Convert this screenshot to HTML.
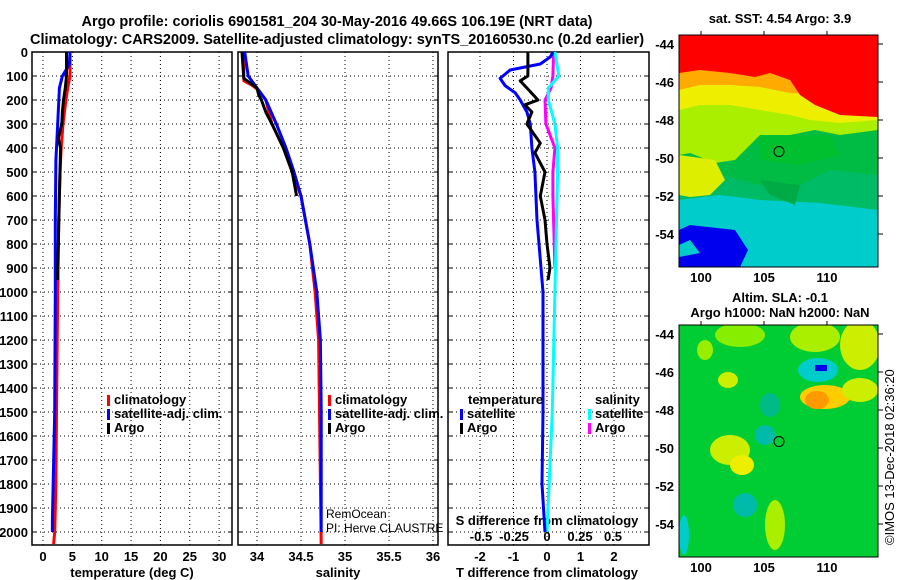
<!DOCTYPE html>
<html><head><meta charset="utf-8"><style>
body{margin:0;background:#fff;}
svg{display:block;font-family:"Liberation Sans",sans-serif;}
.b{font-weight:bold;font-size:13px;}
.t{font-weight:bold;font-size:14.5px;}
</style></head><body>
<svg id="c" width="900" height="580" viewBox="0 0 900 580">
<text class="t" x="337" y="26" text-anchor="middle">Argo profile: coriolis 6901581_204 30-May-2016 49.66S 106.19E (NRT data)</text>
<text class="t" x="337" y="44" text-anchor="middle">Climatology: CARS2009. Satellite-adjusted climatology: synTS_20160530.nc (0.2d earlier)</text>
<g id="g"></g>
<g id="maps"></g>
</svg>
<script>
// ---- data ----
const depthTicks=[0,100,200,300,400,500,600,700,800,900,1000,1100,1200,1300,1400,1500,1600,1700,1800,1900,2000];
const tTicks=[0,5,10,15,20,25,30];
const sTicks=[34,34.5,35,35.5,36];
const sTickLabels=["34","34.5","35","35.5","36"];
const dtTicks=[-2,-1,0,1,2];
const dsTicks=[-0.5,-0.25,0,0.25,0.5];
const dsTickLabels=["-0.5","-0.25","0","0.25","0.5"];

const tClimDepth=[0,100,150,200,300,400,500,700,1000,1500,1800,2000,2050];
const tClimVal=[4.6,4.6,4.2,3.9,3.4,3.1,2.9,2.7,2.5,2.3,2.2,2.0,1.8];
const tSatDepth=[0,50,80,100,150,300,450,700,1000,1500,1950,2000];
const tSatVal=[4.6,4.5,3.8,3.3,2.8,2.5,2.2,2.1,2.1,2.0,1.6,1.6];
const tArgoDepth=[0,100,150,200,250,300,360,400,500,600,700,800,900,950];
const tArgoVal=[4.0,4.0,3.8,3.5,3.3,3.2,2.6,3.0,2.9,2.8,2.7,2.6,2.5,2.5];

const sClimDepth=[0,120,140,160,200,300,400,500,600,800,1000,1200,1500,2050];
const sClimVal=[33.85,33.85,33.95,34.02,34.1,34.17,34.3,34.4,34.5,34.6,34.66,34.7,34.71,34.73];
const sSatDepth=[0,100,150,200,300,400,500,600,800,1000,1200,1500,2000];
const sSatVal=[33.86,33.9,34.0,34.1,34.22,34.33,34.42,34.5,34.6,34.68,34.72,34.73,34.73];
const sArgoDepth=[0,110,150,180,200,250,300,400,500,600];
const sArgoVal=[33.83,33.85,34.0,34.02,34.05,34.1,34.17,34.3,34.4,34.45];

const dtSatDepth=[0,20,50,75,110,140,170,200,250,300,400,500,700,1000,1500,1800,2000];
const dtSatVal=[0.18,0.1,-0.2,-1.1,-1.4,-1.25,-0.95,-0.8,-0.6,-0.5,-0.45,-0.36,-0.3,-0.12,-0.12,-0.15,-0.06];
const dtArgoDepth=[0,100,120,150,200,220,250,300,380,420,500,600,700,800,900,950];
const dtArgoVal=[-0.57,-0.57,-0.8,-0.6,-0.27,-0.66,-0.45,-0.6,-0.2,-0.36,-0.06,-0.2,-0.06,0,0.09,0.03];
const dsSatDepth=[0,100,150,200,300,400,500,1000,1500,2000];
const dsSatVal=[0.06,0.09,0.01,0.01,0.06,0.08,0.08,0.06,0.04,0.0];
const dsArgoDepth=[0,100,150,200,300,400,500,600,700,900];
const dsArgoVal=[0.05,0.045,0.03,-0.015,-0.008,0.06,0.045,0.045,0.05,0.06];

// ---- axes ----
const Y=d=>52+d*0.24;
const XT=v=>43+v*5.87;
const XS=v=>257+(v-34)*88;
const XDT=v=>547+v*33.5;
const XDS=v=>547+v*132;
const NS="http://www.w3.org/2000/svg";
const g=document.getElementById('g');
function el(tag,attrs,parent){const e=document.createElementNS(NS,tag);for(const k in attrs)e.setAttribute(k,attrs[k]);(parent||g).appendChild(e);return e;}
function txt(x,y,s,anchor,cls){const e=el('text',{x:x,y:y,'text-anchor':anchor||'middle','class':cls||'b'});e.textContent=s;return e;}

const panels=[{x0:32,x1:232,name:'temperature'},{x0:238,x1:438,name:'salinity'},{x0:448,x1:649,name:'difference'}];
const yb=545;
panels.forEach((p,i)=>{
  const gx=i==0?tTicks.map(XT):i==1?sTicks.map(XS):dtTicks.map(XDT);
  gx.forEach(x=>{const l=el('line',{x1:x,x2:x,y1:52,y2:yb,stroke:'#000','stroke-width':1,'stroke-dasharray':'1,3'});
    
    });
  depthTicks.forEach(d=>{const l=el('line',{x1:p.x0,x2:p.x1,y1:Y(d),y2:Y(d),stroke:'#000','stroke-width':1,'stroke-dasharray':'1,3'});
    
    
    el('line',{x1:p.x1-4,x2:p.x1,y1:Y(d),y2:Y(d),stroke:'#000'});
    el('line',{x1:p.x0,x2:p.x0+4,y1:Y(d),y2:Y(d),stroke:'#000'});});
  const r=el('rect',{x:p.x0,y:52,width:p.x1-p.x0,height:yb-52,fill:'none',stroke:'#000','stroke-width':1.5});
  
  
});
depthTicks.forEach(d=>{const t=txt(28,Y(d)+5,String(d),'end');
  
  });
tTicks.forEach(v=>{const t=txt(XT(v),561,String(v));
  
  });
sTicks.forEach((v,i)=>{const t=txt(XS(v),561,sTickLabels[i]);
  
  });
dtTicks.forEach(v=>{const t=txt(XDT(v),561,String(v));
  
  });
dsTicks.forEach((v,i)=>{const t=txt(XDS(v),541,dsTickLabels[i]);
  
  });
let t;
t=txt(132,577,'temperature (deg C)');
t=txt(338,577,'salinity');
t=txt(547,577,'T difference from climatology');
t=txt(547,525,'S difference from climatology');

function line(ds,vs,X,color,name){
  const pts=ds.map((d,i)=>X(vs[i]).toFixed(1)+','+Y(d).toFixed(1)).join(' ');
  const l=el('polyline',{points:pts,fill:'none',stroke:color,'stroke-width':3,'stroke-linejoin':'round'});
  
  
}
line(tClimDepth,tClimVal,XT,'#f00','temperature-climatology-line');
line(tSatDepth,tSatVal,XT,'#00f','temperature-satellite-line');
line(tArgoDepth,tArgoVal,XT,'#000','temperature-argo-line');
line(sClimDepth,sClimVal,XS,'#f00','salinity-climatology-line');
line(sSatDepth,sSatVal,XS,'#00f','salinity-satellite-line');
line(sArgoDepth,sArgoVal,XS,'#000','salinity-argo-line');
line(dsArgoDepth,dsArgoVal,XDS,'#f0f','s-diff-argo-line');
line(dsSatDepth,dsSatVal,XDS,'#0ff','s-diff-satellite-line');
line(dtSatDepth,dtSatVal,XDT,'#00f','t-diff-satellite-line');
line(dtArgoDepth,dtArgoVal,XDT,'#000','t-diff-argo-line');

function legend(x,y,items,name){
  items.forEach((it,i)=>{
    el('rect',{x:x,y:y+i*14-9,width:3,height:11,fill:it[1]});
    const tt=txt(x+7,y+i*14,it[0],'start');
    
    
  });
}
legend(107,404,[['climatology','#f00'],['satellite-adj. clim.','#00f'],['Argo','#000']],'temperature-legend');
legend(328,404,[['climatology','#f00'],['satellite-adj. clim.','#00f'],['Argo','#000']],'salinity-legend');
t=txt(468,404,'temperature','start');
legend(460,418,[['satellite','#00f'],['Argo','#000']],'t-diff-legend');
t=txt(595,404,'salinity','start');
legend(588,418,[['satellite','#0ff'],['Argo','#f0f']],'s-diff-legend');
t=el('text',{x:326,y:518,'font-size':12});t.textContent='RemOcean';
t=el('text',{x:326,y:532,'font-size':12});t.textContent='PI: Herve CLAUSTRE';

// ---- maps ----
const latTicks=[-44,-46,-48,-50,-52,-54];
const lonTicks=[100,105,110];
const mg=document.getElementById('maps');
function map(y0,title1,title2,name,layers){
  const X=lon=>701+(lon-100)*12.6, YY=lat=>y0+9+(-44-lat)*19;
  const gg=el('g',{},mg);
  
  
  const cp=el('clipPath',{id:'cp'+y0},gg);el('rect',{x:679,y:y0,width:199,height:232},cp);
  const inner=el('g',{'clip-path':'url(#cp'+y0+')'},gg);
  layers.forEach(L=>{
    if(L[0]=='r') el('rect',{x:L[1],y:y0+L[2],width:L[3],height:L[4],fill:L[5]},inner);
    else if(L[0]=='e') el('ellipse',{cx:L[1],cy:y0+L[2],rx:L[3],ry:L[4],fill:L[5]},inner);
    else el('polygon',{points:L[1].map((v,i)=>i%2?v+y0:v).join(' '),fill:L[2]},inner);
  });
  el('rect',{x:679,y:y0,width:199,height:232,fill:'none',stroke:'#000'},gg);
  el('circle',{cx:X(106.19),cy:YY(-49.66),r:5,fill:'none',stroke:'#000'},gg);
  latTicks.forEach(l=>{const tt=el('text',{x:674,y:YY(l)+5,'text-anchor':'end','class':'b'},gg);tt.textContent=String(l);
    el('line',{x1:878,x2:883,y1:YY(l),y2:YY(l),stroke:'#000'},gg);});
  lonTicks.forEach(l=>{const tt=el('text',{x:X(l),y:y0+247,'text-anchor':'middle','class':'b'},gg);tt.textContent=String(l);
    el('line',{x1:X(l),x2:X(l),y1:y0-4,y2:y0,stroke:'#000'},gg);});
  let tt=el('text',{x:780,y:title2?y0-23:y0-12,'text-anchor':'middle','class':'b'},gg);tt.textContent=title1;
  if(title2){tt=el('text',{x:780,y:y0-8,'text-anchor':'middle','class':'b'},gg);tt.textContent=title2;}
}
map(35,'sat. SST: 4.54 Argo: 3.9',null,'sst-map',[
 ['r',679,0,199,232,'#00cccc'],
 ['p',[679,0,878,0,878,175,820,168,760,165,720,160,679,165],'#00bb66'],
 ['p',[679,0,878,0,878,140,830,135,800,150,760,150,740,145,700,135,679,135],'#00bb44'],
 ['p',[679,0,878,0,878,95,840,100,815,95,790,100,760,100,735,125,715,128,690,118,679,120],'#aaee00'],
 ['p',[760,100,830,100,840,120,800,130,760,125],'#00c030'],
 ['p',[679,0,878,0,878,85,840,88,810,85,790,80,760,75,730,70,700,70,679,75],'#eeee00'],
 ['p',[679,0,878,0,878,62,840,60,790,58,760,52,730,50,700,50,679,55],'#ffaa00'],
 ['p',[679,0,878,0,878,82,840,80,815,70,800,60,790,45,770,38,755,42,730,38,700,35,679,38],'#ff0000'],
 ['p',[679,120,715,125,725,145,710,160,690,162,679,160],'#ddee00'],
 ['p',[679,195,690,190,735,195,748,215,740,232,679,232],'#0000ee'],
 ['p',[679,210,690,205,700,218,679,222],'#00cccc'],
 ['p',[760,145,800,150,795,170,770,160],'#00aa44']
]);
map(325,'Altim. SLA: -0.1','Argo h1000: NaN h2000: NaN','sla-map',[
 ['r',679,0,199,232,'#00cc33'],
 ['e',740,10,25,12,'#88ee00'],
 ['e',815,12,25,15,'#aaee00'],
 ['e',860,20,20,25,'#ccee00'],
 ['e',728,55,10,8,'#ccee00'],
 ['e',705,25,8,10,'#99ee00'],
 ['e',818,45,20,12,'#00cccc'],
 ['r',815,40,12,6,'#0000ee'],
 ['e',825,72,25,12,'#ffcc00'],
 ['e',817,75,12,9,'#ff9900'],
 ['e',860,65,18,12,'#ccee00'],
 ['e',730,125,20,15,'#ccee00'],
 ['e',742,140,12,10,'#eeee00'],
 ['e',765,110,10,10,'#00bbaa'],
 ['e',775,200,10,25,'#aaee00'],
 ['e',770,80,10,12,'#00bb88'],
 ['e',745,180,12,12,'#00bbaa'],
 ['e',684,210,5,20,'#00cccc']
]);
const ts=el('text',{x:0,y:0,'font-size':13,transform:'translate(894,545) rotate(-90)'},mg);
ts.textContent='©IMOS 13-Dec-2018 02:36:20';


</script>
</body></html>
